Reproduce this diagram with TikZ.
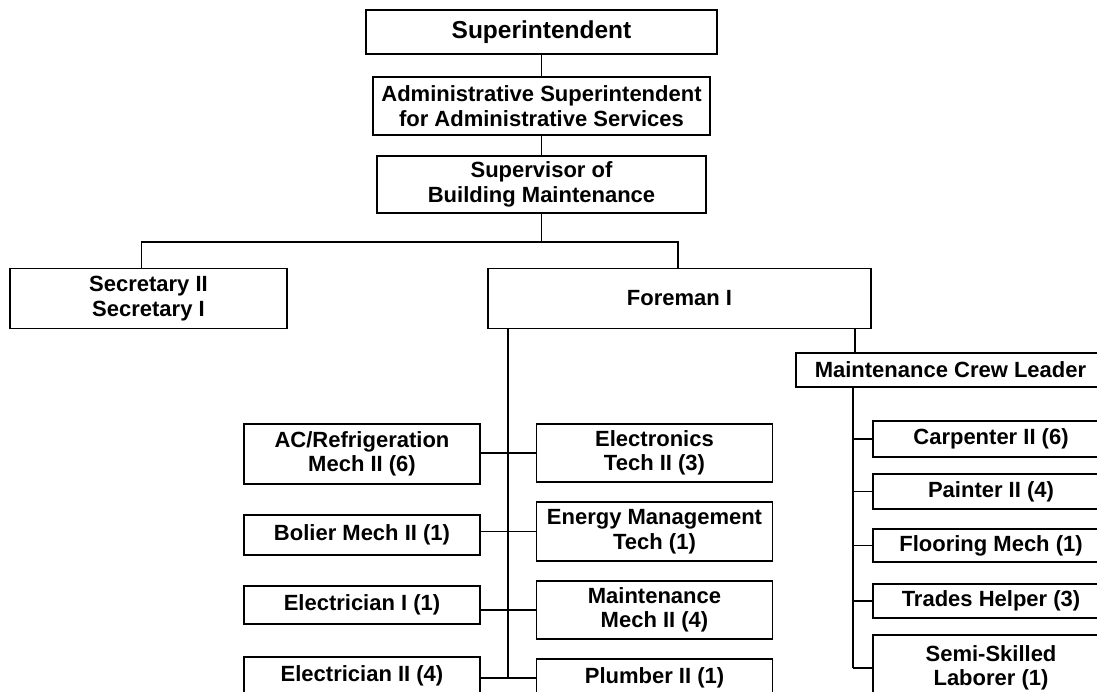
\documentclass[tikz,border=0pt]{standalone}
\usepackage{fontspec}
\setmainfont{Liberation Sans}

\tikzset{
    post/.style={draw, align=center, inner sep=0pt, fill=white},
    link/.style={line width=1.6pt}
}

\begin{document}
\begin{tikzpicture}[x=1pt,y=-1pt,text centered]
    \useasboundingbox (0,0) rectangle (1097,692);
    \fill[white] (0,0) rectangle (1097,692);
    \clip (0,0) rectangle (1097,692);
    \begin{scope}[line width=1.6pt,font=\bfseries\fontsize{22}{24.5}\selectfont]

    % top of the chain
    \node (sup) [post, minimum width=351, minimum height=44, font=\bfseries\fontsize{24.5}{27}\selectfont] at (541.5,32) {Superintendent};
    \node (adm) [post, minimum width=337, minimum height=58] at (541.5,106) {Administrative Superintendent \\ for Administrative Services};
    \node (bldg) [post, minimum width=329, minimum height=57] at (541.5,184.5) {Supervisor of \\ Building Maintenance};

    \node (sec) [post, minimum width=277, minimum height=60] at (148.5,298.5) {Secretary II \\ Secretary I};
    \node (foreman) [post, minimum width=383, minimum height=60] at (679.5,298.5) {Foreman I};
    \node (crew) [post, minimum width=309, minimum height=34] at (950.5,370) {Maintenance Crew Leader};

    % trades under the foreman
    \node (acref) [post, minimum width=236, minimum height=60] at (362,454) {AC/Refrigeration \\ Mech II (6)};
    \node (boiler) [post, minimum width=236, minimum height=40] at (362,535) {Bolier Mech II (1)};
    \node (elecone) [post, minimum width=236, minimum height=38] at (362,605) {Electrician I (1)};
    \node (electwo) [post, minimum width=236, minimum height=38] at (362,676) {Electrician II (4)};

    \node (electronics) [post, minimum width=236, minimum height=58] at (654.5,453) {Electronics \\ Tech II (3)};
    \node (energy) [post, minimum width=236, minimum height=59] at (654.5,531.5) {Energy Management \\ Tech (1)};
    \node (maint) [post, minimum width=236, minimum height=58] at (654.5,610) {Maintenance \\ Mech II (4)};
    \node (plumber) [post, minimum width=236, minimum height=38] at (654.5,678) {Plumber II (1)};

    % crew
    \node (carp) [post, minimum width=236, minimum height=36] at (991,439) {Carpenter II (6)};
    \node (paint) [post, minimum width=236, minimum height=35] at (991,491.5) {Painter II (4)};
    \node (floor) [post, minimum width=236, minimum height=33] at (991,545.5) {Flooring Mech (1)};
    \node (trades) [post, minimum width=236, minimum height=34] at (991,601) {Trades Helper (3)};
    \node (semi) [post, minimum width=236, minimum height=66] at (991,668) {Semi-Skilled \\ Laborer (1)};

    \draw [link] (sup) -- (adm);
    \draw [link] (adm) -- (bldg);
    \coordinate (bus) at (541.5,242);
    \draw [link] (bldg) -- (bus);
    \draw [link] ([xshift=-7pt]sec.north) |- (bus) -| ([xshift=-1.5pt]foreman.north);

    \coordinate (lstem) at ([xshift=21pt]foreman.south west);
    \draw [link] (lstem) -- (lstem |- plumber.west);
    \foreach \l/\r in {acref/electronics, boiler/energy, elecone/maint, electwo/plumber}
        \draw [link] (\r.west) -- (\r.west -| \l.east);

    \coordinate (rtop) at ([xshift=-17pt]foreman.south east);
    \draw [link] (rtop) -- (rtop |- crew.north);
    \coordinate (rstem) at ([xshift=58pt]crew.south west);
    \draw [link] (rstem) -- (rstem |- semi.west);
    \foreach \t in {carp, paint, floor, trades, semi}
        \draw [link] (\t.west) -- (\t.west -| rstem);

    \end{scope}
\end{tikzpicture}
\end{document}
